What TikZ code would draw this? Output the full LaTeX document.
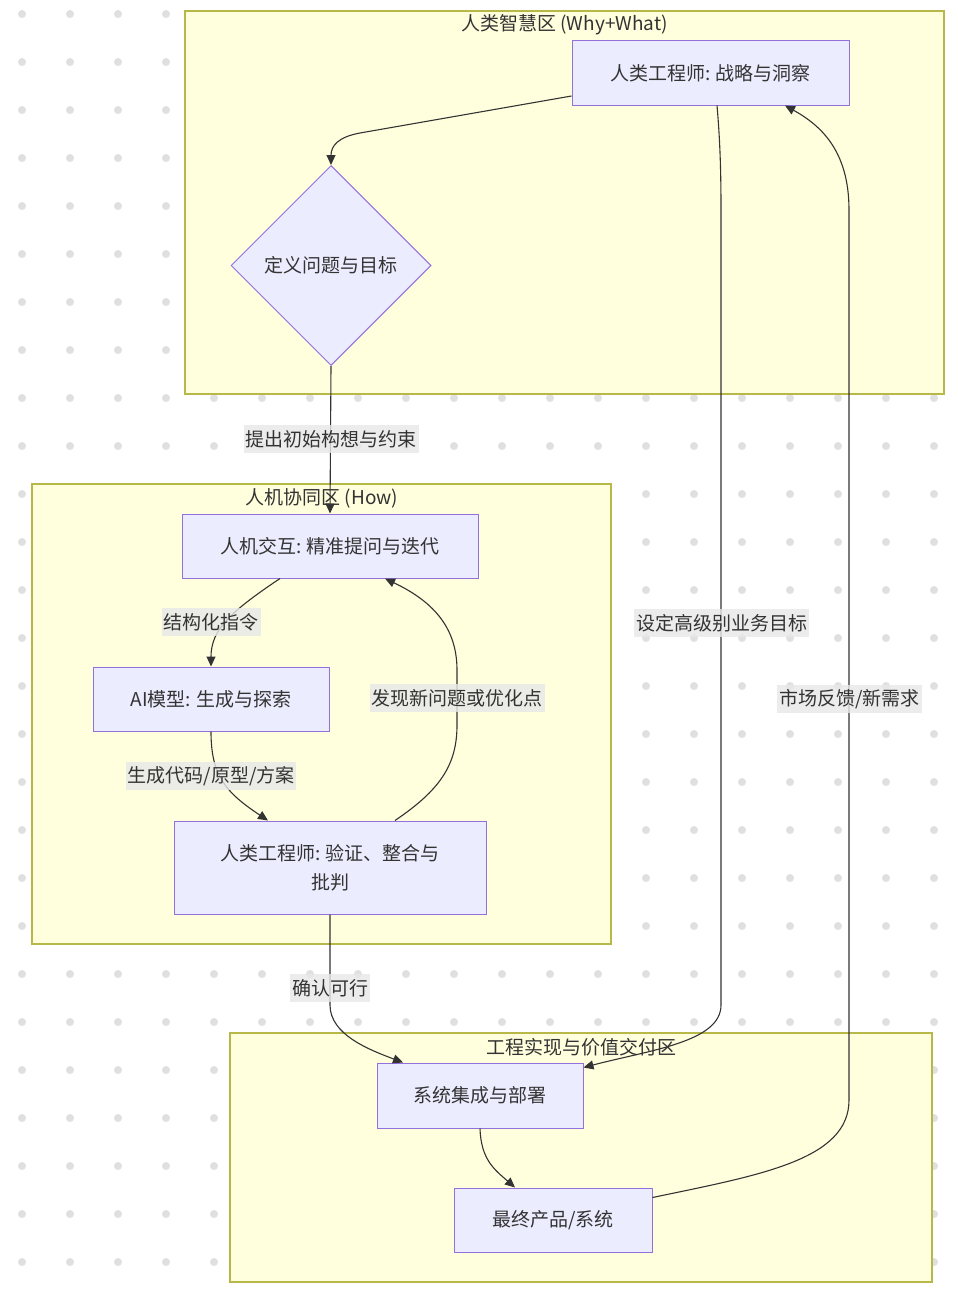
\documentclass[tikz,border=0pt]{standalone}
\usepackage{fontspec}
\setmainfont{Noto Sans CJK SC}
\usetikzlibrary{arrows.meta,shapes.geometric}
\definecolor{txt}{HTML}{333333}
\definecolor{clfill}{HTML}{FFFFDE}
\definecolor{cldraw}{HTML}{B8B848}
\definecolor{ndfill}{HTML}{ECECFF}
\definecolor{nddraw}{HTML}{9370DB}
\definecolor{lblbg}{HTML}{E8E8E8}
\definecolor{dotc}{HTML}{E0E0E0}
\tikzset{
  basefont/.style={font=\fontsize{19}{29}\selectfont, text=txt},
  cluster/.style={draw=cldraw, fill=clfill, line width=1.1pt},
  ctitle/.style={basefont, inner sep=0pt},
  box/.style={basefont, draw=nddraw, fill=ndfill, line width=1pt, rectangle, inner sep=0pt, align=center},
  dia/.style={basefont, draw=nddraw, fill=ndfill, line width=1pt, diamond, aspect=1, inner sep=0pt, minimum width=200pt, minimum height=200pt},
  edge/.style={draw=txt, line width=1.1pt, -{Triangle[length=10pt,width=9pt]}},
  elabel/.style={basefont, fill=lblbg, fill opacity=0.8, text opacity=1, inner xsep=2pt, inner ysep=0pt, minimum height=28pt},
}
\begin{document}
\begin{tikzpicture}[x=1pt,y=-1pt]
\useasboundingbox (0,0) rectangle (958,1290);
\fill[white] (0,0) rectangle (958,1290);
% dot grid
\foreach \i in {0,...,19} {
  \foreach \j in {0,...,26} {
    \fill[dotc] ({22+48*\i},{14+48*\j}) circle (4pt);
  }
}
% clusters
\draw[cluster] (185,11) rectangle (944,394);
\draw[cluster] (32,484) rectangle (611,944);
\draw[cluster] (230,1033) rectangle (932,1282);
\node[ctitle] (t1) at (564.5,25) {人类智慧区 (Why+What)};
\node[ctitle] (t2) at (322,498) {人机协同区 (How)};
\node[ctitle] (t3) at (581,1047) {工程实现与价值交付区};
% nodes
\node[box, minimum width=277pt, minimum height=64pt] (A) at (710.5,73) {人类工程师: 战略与洞察};
\node[dia] (B) at (331,265.5) {定义问题与目标};
\node[box, minimum width=296pt, minimum height=64pt] (C) at (330,546) {人机交互: 精准提问与迭代};
\node[box, minimum width=236pt, minimum height=64pt] (D) at (211,699) {AI模型: 生成与探索};
\node[box, minimum width=312pt, minimum height=93pt] (E) at (330,867.5) {人类工程师: 验证、整合与\\批判};
\node[box, minimum width=206pt, minimum height=65pt] (F) at (480,1095.5) {系统集成与部署};
\node[box, minimum width=198pt, minimum height=64pt] (G) at (553,1220) {最终产品/系统};
% edges
\draw[edge] ([yshift=-23pt]A.west) -- (360,133) .. controls (338,137) and (331,146) .. (B.north);
\draw[edge] (B.south) -- (C.north);
\draw[edge] ([xshift=-50pt]C.south) .. controls (230,612) and (211,630) .. (D.north);
\draw[edge] (D.south) .. controls (211,775) and (225,792) .. ([xshift=-62pt]E.north);
\draw[edge] ([xshift=65pt]E.north) .. controls (440,790) and (457,765) .. (457,725) -- (457,670) .. controls (457,625) and (430,600) .. ([xshift=55pt]C.south);
\draw[edge] (E.south) -- (330,1005) .. controls (330,1035) and (370,1050) .. ([xshift=-77pt]F.north);
\draw[edge] ([xshift=6.5pt]A.south) .. controls (720,140) and (721,170) .. (721,210) -- (721,1005) .. controls (721,1042) and (650,1050) .. ([yshift=-5pt]F.north east);
\draw[edge] ([yshift=-10pt]G.north east) .. controls (760,1175) and (849,1160) .. (849,1100) -- (849,210) .. controls (849,150) and (820,125) .. ([xshift=74.5pt]A.south);
\draw[edge] (F.south) .. controls (481,1160) and (495,1170) .. ([xshift=-38pt]G.north);
% edge labels
\node[elabel] (l1) at (331,439) {提出初始构想与约束};
\node[elabel] (l2) at (211,622) {结构化指令};
\node[elabel] (l3) at (457,698) {发现新问题或优化点};
\node[elabel] (l4) at (211,776) {生成代码/原型/方案};
\node[elabel] (l5) at (330,988) {确认可行};
\node[elabel] (l6) at (721.5,623) {设定高级别业务目标};
\node[elabel] (l7) at (849.5,699) {市场反馈/新需求};
\end{tikzpicture}
\end{document}
